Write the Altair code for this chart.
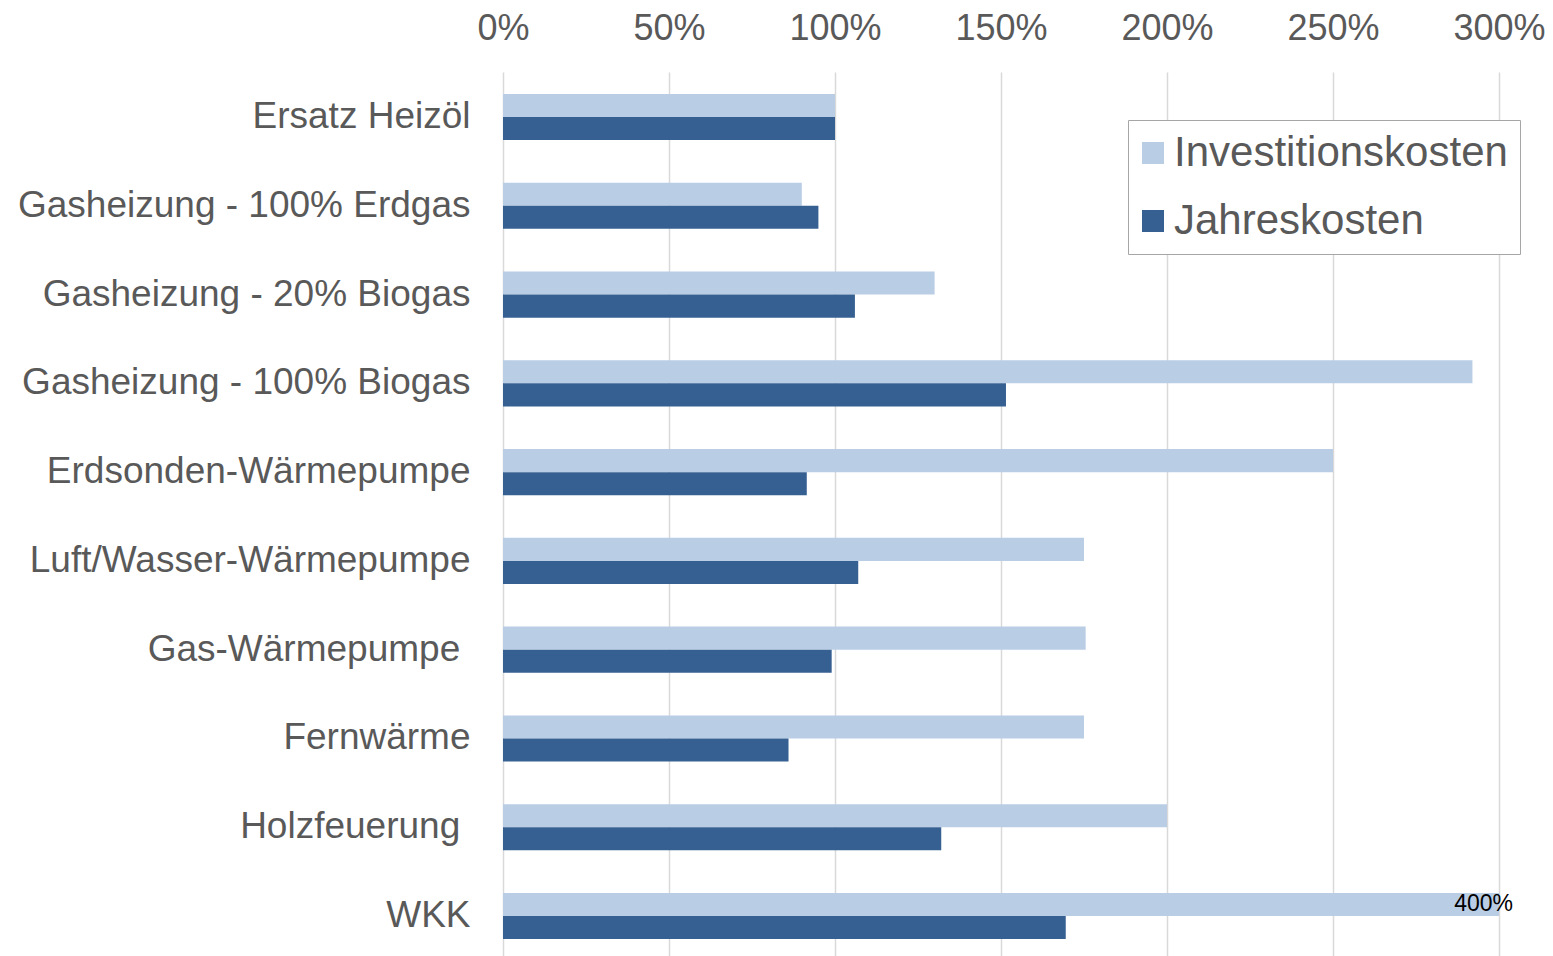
import altair as alt
import pandas as pd

TRAIL = "\u00a0\u200b"
categories = [
    "Ersatz Heizöl",
    "Gasheizung - 100% Erdgas",
    "Gasheizung - 20% Biogas",
    "Gasheizung - 100% Biogas",
    "Erdsonden-Wärmepumpe",
    "Luft/Wasser-Wärmepumpe",
    "Gas-Wärmepumpe" + TRAIL,
    "Fernwärme",
    "Holzfeuerung" + TRAIL,
    "WKK",
]
series = ["Investitionskosten", "Jahreskosten"]
investition = [100, 90, 130, 292, 250, 175, 175.5, 175, 200, 400]
jahres = [100, 95, 106, 151.5, 91.5, 107, 99, 86, 132, 169.5]
x_ticks = [0, 50, 100, 150, 200, 250, 300]
colors = ["#B9CDE5", "#376092"]

rows = []
for c, i, j in zip(categories, investition, jahres):
    rows.append({"Kategorie": c, "Kostenart": series[0], "Wert": i})
    rows.append({"Kategorie": c, "Kostenart": series[1], "Wert": j})
df = pd.DataFrame(rows)

lab = pd.DataFrame([{"Kategorie": "WKK", "Kostenart": series[0], "Wert": 400, "Text": "400%"}])

FONT = "Liberation Sans"

xscale = alt.Scale(domain=[0, 300], clamp=True, nice=False)
yscale = alt.Scale(domain=categories, paddingInner=0.48, paddingOuter=0.2185, align=0.565)
yoff = alt.Scale(domain=series)

bars = alt.Chart(df).mark_bar().encode(
    x=alt.X("Wert:Q", scale=xscale,
            axis=alt.Axis(orient="top", values=x_ticks, labelExpr="datum.value + '%'",
                          title=None, ticks=False, tickSize=0, domain=False,
                          grid=True, gridColor="#d9d9d9", gridWidth=1.5,
                          labelFontSize=36, labelColor="#595959", labelFont=FONT,
                          labelPadding=25, labelFlush=False)),
    y=alt.Y("Kategorie:N", scale=yscale, sort=categories,
            axis=alt.Axis(title=None, ticks=False, domain=False, labelFontSize=37,
                          labelColor="#595959", labelFont=FONT, labelPadding=33,
                          labelLimit=0)),
    yOffset=alt.YOffset("Kostenart:N", scale=yoff, sort=series),
    color=alt.Color("Kostenart:N", scale=alt.Scale(domain=series, range=colors),
                    legend=alt.Legend(title=None, orient="none", legendX=625, legendY=48,
                                      symbolType="square", symbolSize=484,
                                      symbolStrokeWidth=0, symbolOffset=-8,
                                      labelFontSize=42,
                                      labelFont=FONT, labelColor="#595959",
                                      labelOffset=0, rowPadding=26, padding=12,
                                      strokeColor="#a6a6a6", fillColor="white",
                                      labelLimit=0)),
)

text = alt.Chart(lab).mark_text(align="right", baseline="middle", dx=14, fontSize=23,
                                font=FONT, color="black").encode(
    x=alt.X("Wert:Q", scale=xscale),
    y=alt.Y("Kategorie:N", scale=yscale, sort=categories),
    yOffset=alt.YOffset("Kostenart:N", scale=yoff, sort=series),
    text="Text:N",
)

chart = alt.layer(bars, text).properties(
    width=996, height=884,
    padding={"left": 503, "top": 72, "right": 54, "bottom": 0},
    autosize=alt.AutoSizeParams(type="none"),
).configure_view(stroke=None)

chart.save("out.html", embed_options={"renderer": "svg", "actions": False})
